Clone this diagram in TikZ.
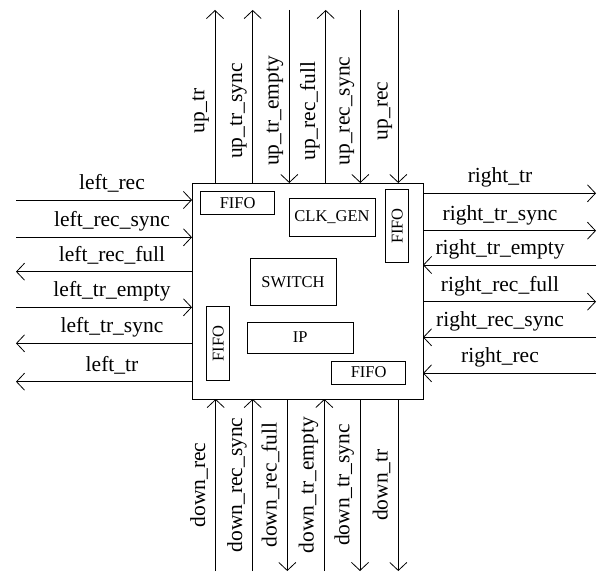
\documentclass[tikz,border=0pt]{standalone}
\usepackage{fontspec}
\setmainfont{Liberation Serif}
\usetikzlibrary{arrows.meta}

\begin{document}
\begin{tikzpicture}[x=1pt, y=-1pt, line width=0.8pt,
    tochip/.style={-{Straight Barb[length=8pt,width=17pt]}},
    fromchip/.style={{Straight Barb[length=8pt,width=17pt]}-},
    lbl/.style={font=\fontsize{21.5}{24}\selectfont, inner sep=1pt, text height=0.7em, text depth=0.22em},
    block/.style={draw, font=\fontsize{16.5}{19}\selectfont, inner sep=0pt, outer sep=0pt}]

    % Fix picture size
    \useasboundingbox (0,0) rectangle (597,572);

    % Draw chip outline
    \node[block, minimum width=231pt, minimum height=216pt] (chip) at (307.5,291) {};

    % Draw inner blocks
    \node[block, minimum width=74pt, minimum height=22.6pt] (fifoTop) at (237.7,203) {FIFO};
    \node[block, minimum width=86pt, minimum height=38.7pt] (clkgen) at (332,217.3) {CLK\_GEN};
    \node[block, rotate=90, minimum width=73.4pt, minimum height=23pt] (fifoRight) at (397.2,226) {FIFO};
    \node[block, minimum width=86pt, minimum height=46.3pt] (switch) at (293,281.8) {SWITCH};
    \node[block, rotate=90, minimum width=74pt, minimum height=23pt] (fifoLeft) at (218.2,343.7) {FIFO};
    \node[block, minimum width=105.7pt, minimum height=31pt] (ip) at (300.2,337.5) {IP};
    \node[block, minimum width=74pt, minimum height=23pt] (fifoBot) at (368.7,372.5) {FIFO};

    % Top signals
    \foreach \x/\name/\dir [count=\i] in {215/up\_tr/fromchip, 252.7/up\_tr\_sync/fromchip,
        289.3/up\_tr\_empty/tochip, 325.7/up\_rec\_full/fromchip, 360.3/up\_rec\_sync/tochip, 398.3/up\_rec/tochip} {
        \coordinate (top\i) at (\x,10);
        \draw[\dir] (top\i) -- (chip.north -| top\i);
        \node[lbl, rotate=90, anchor=south] (topL\i) at (\x-7,111) {\name};
    }

    % Bottom signals
    \foreach \x/\name/\dir [count=\i] in {215.7/down\_rec/tochip, 252.7/down\_rec\_sync/tochip,
        287.3/down\_rec\_full/fromchip, 324.3/down\_tr\_empty/tochip, 360/down\_tr\_sync/fromchip, 398.3/down\_tr/fromchip} {
        \coordinate (bot\i) at (\x,571);
        \draw[\dir] (bot\i) -- (chip.south -| bot\i);
        \node[lbl, rotate=90, anchor=south] (botL\i) at (\x-7,485) {\name};
    }

    % Left signals
    \foreach \y/\name/\dir [count=\i] in {200/left\_rec/tochip, 237.3/left\_rec\_sync/tochip,
        271.7/left\_rec\_full/fromchip, 307.3/left\_tr\_empty/tochip, 343.3/left\_tr\_sync/fromchip, 381.7/left\_tr/fromchip} {
        \coordinate (left\i) at (16,\y);
        \draw[\dir] (left\i) -- (chip.west |- left\i);
        \node[lbl, anchor=south] (leftL\i) at (112,\y-7) {\name};
    }

    % Right signals
    \foreach \y/\name/\dir [count=\i] in {193.3/right\_tr/fromchip, 230.7/right\_tr\_sync/fromchip,
        265/right\_tr\_empty/tochip, 301.7/right\_rec\_full/fromchip, 337.3/right\_rec\_sync/tochip, 373.3/right\_rec/tochip} {
        \coordinate (right\i) at (596,\y);
        \draw[\dir] (right\i) -- (chip.east |- right\i);
        \node[lbl, anchor=south] (rightL\i) at (500,\y-7) {\name};
    }

\end{tikzpicture}
\end{document}
